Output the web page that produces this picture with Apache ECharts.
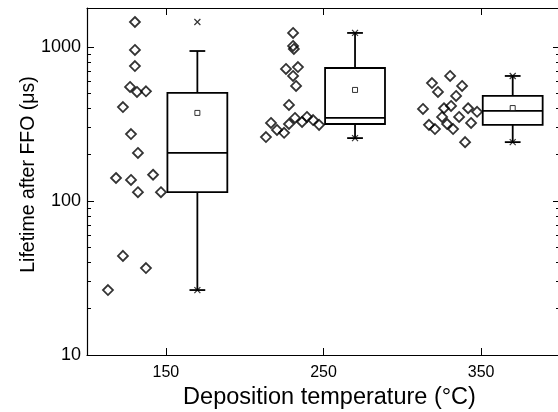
<!DOCTYPE html>
<html>
<head>
<meta charset="utf-8">
<script src="https://cdn.jsdelivr.net/npm/echarts@6/dist/echarts.min.js"></script>
<style>
  html, body { margin: 0; padding: 0; background: #fff; }
  #chart { width: 558px; height: 412px; }
</style>
</head>
<body>
<div id="chart"></div>
<script>
// Tick labels on the temperature axis
const tempTicks = [150, 250, 350];

// Individual lifetimes (µs), plotted with a small horizontal offset left of each box
const x150 = [130.4, 130.4, 130.4, 127.3, 131.7, 137.4, 122.8, 127.9, 132.3, 118.4, 127.9, 141.9, 132.3, 146.9, 122.8, 137.4, 113.3];
const life150 = [1452, 956, 752, 550, 510, 515, 407, 272, 205, 141, 137, 148, 114, 114, 44, 36.7, 26.4];

const x250 = [230.7, 230.7, 231.2, 226.2, 233.8, 230.7, 232.6, 228.1, 216.7, 220.5, 225.0, 213.5, 228.1, 231.9, 236.4, 239.5, 243.4, 247.2];
const life250 = [1233, 1015, 970, 720, 740, 648, 558, 420, 321, 289, 277, 260, 316, 346, 326, 351, 335, 312];

const x350 = [330.3, 318.8, 322.6, 337.9, 334.1, 313.1, 326.4, 330.9, 341.7, 347.4, 325.2, 336.0, 316.9, 320.7, 328.4, 332.2, 343.6, 339.8];
const life350 = [648, 583, 510, 558, 481, 396, 400, 414, 400, 379, 351, 351, 312, 293, 316, 293, 321, 241];

// Box statistics per deposition temperature
const boxCenters = [170, 270, 370];
const whiskerLow = [26.4, 256, 241];
const quart1 = [114, 316, 312];
const medians = [205, 346, 384];
const quart3 = [503, 730, 481];
const whiskerHigh = [941, 1233, 648];
const means = [373, 526, 401];
const maxVals = [1452, 1233, 648];
const minVals = [26.4, 256, 241];

const BOX_HALF = 19;   // half box width, in °C
const CAP_HALF = 5;    // half whisker-cap width, in °C
const FONT = '"Liberation Sans", Arial, sans-serif';

function pairs(xs, ys) { return xs.map((x, i) => [x, ys[i]]); }

function renderBox(params, api) {
  const cx = api.value(0);
  const lo = api.value(1), q1 = api.value(2), med = api.value(3), q3 = api.value(4), hi = api.value(5);
  const tl = api.coord([cx - BOX_HALF, q3]);
  const br = api.coord([cx + BOX_HALF, q1]);
  const mL = api.coord([cx - BOX_HALF, med]);
  const mR = api.coord([cx + BOX_HALF, med]);
  const pHi = api.coord([cx, hi]);
  const pLo = api.coord([cx, lo]);
  const pQ3 = api.coord([cx, q3]);
  const pQ1 = api.coord([cx, q1]);
  const hiL = api.coord([cx - CAP_HALF, hi]), hiR = api.coord([cx + CAP_HALF, hi]);
  const loL = api.coord([cx - CAP_HALF, lo]), loR = api.coord([cx + CAP_HALF, lo]);
  const st = { stroke: '#000', lineWidth: 1.8, fill: null };
  const line = (a, b) => ({ type: 'line', shape: { x1: a[0], y1: a[1], x2: b[0], y2: b[1] }, style: st });
  return {
    type: 'group',
    children: [
      { type: 'rect', shape: { x: tl[0], y: tl[1], width: br[0] - tl[0], height: br[1] - tl[1] },
        style: { stroke: '#000', lineWidth: 1.8, fill: 'rgba(0,0,0,0)' } },
      line(mL, mR),
      line(pQ3, pHi),
      line(pQ1, pLo),
      line(hiL, hiR),
      line(loL, loR)
    ]
  };
}

const crossPath = 'path://M0,0L10,10M10,0L0,10';

const diamondStyle = { color: 'rgba(0,0,0,0)', borderColor: '#000', borderWidth: 1.8 };

const logAxisBase = {
  type: 'log', logBase: 10, min: 10, max: 1790,
  axisLine: { show: true, lineStyle: { color: '#000', width: 1.2 } },
  splitLine: { show: false },
  axisTick: { show: true, inside: true, length: 7, lineStyle: { color: '#000', width: 1 } },
  minorTick: { show: true, splitNumber: 9, length: 4, lineStyle: { color: '#000', width: 1 } },
  minorSplitLine: { show: false }
};

const chart = echarts.init(document.getElementById('chart'), null, { renderer: 'canvas' });
chart.setOption({
  animation: false,
  backgroundColor: '#fff',
  grid: { left: 87, top: 8, width: 473, height: 347, outerBoundsMode: 'none', containLabel: false },
  xAxis: [
    {
      type: 'value', min: 100, max: 400, position: 'bottom',
      name: 'Deposition temperature (°C)', nameLocation: 'middle', nameGap: 31, nameMoveOverlap: false,
      nameTextStyle: { fontFamily: FONT, fontSize: 23.5, color: '#000', padding: [0, 0, 0, 12] },
      axisLine: { show: true, onZero: false, lineStyle: { color: '#000', width: 1.2 } },
      splitLine: { show: false },
      axisTick: { show: true, inside: true, length: 7, customValues: tempTicks, lineStyle: { color: '#000', width: 1 } },
      axisLabel: { customValues: tempTicks, margin: 10, fontFamily: FONT, fontSize: 16, color: '#000' }
    },
    {
      type: 'value', min: 100, max: 400, position: 'top',
      axisLine: { show: true, onZero: false, lineStyle: { color: '#000', width: 1.2 } },
      splitLine: { show: false },
      axisTick: { show: true, inside: true, length: 7, customValues: tempTicks, lineStyle: { color: '#000', width: 1 } },
      axisLabel: { show: false }
    }
  ],
  yAxis: [
    Object.assign({}, logAxisBase, {
      position: 'left',
      name: 'Lifetime after FFO (μs)', nameLocation: 'middle', nameGap: 48, nameMoveOverlap: false,
      nameTextStyle: { fontFamily: FONT, fontSize: 19.5, color: '#000', padding: [0, 0, 0, 14] },
      axisLabel: {
        margin: 6, showMaxLabel: false, fontFamily: FONT, fontSize: 18, color: '#000',
        formatter: v => String(v)
      }
    }),
    Object.assign({}, logAxisBase, {
      position: 'right',
      axisLabel: { show: false }
    })
  ],
  series: [
    {
      type: 'custom', renderItem: renderBox, xAxisIndex: 0, yAxisIndex: 0,
      encode: { x: 0, y: [1, 2, 3, 4, 5] },
      data: boxCenters.map((c, i) => [c, whiskerLow[i], quart1[i], medians[i], quart3[i], whiskerHigh[i]]),
      z: 2
    },
    { type: 'scatter', symbol: 'diamond', symbolSize: 10, itemStyle: diamondStyle, data: pairs(x150, life150), z: 3 },
    { type: 'scatter', symbol: 'diamond', symbolSize: 10, itemStyle: diamondStyle, data: pairs(x250, life250), z: 3 },
    { type: 'scatter', symbol: 'diamond', symbolSize: 10, itemStyle: diamondStyle, data: pairs(x350, life350), z: 3 },
    {
      type: 'scatter', symbol: 'rect', symbolSize: 5,
      itemStyle: { color: '#fff', borderColor: '#000', borderWidth: 1 },
      data: pairs(boxCenters, means), z: 4
    },
    {
      type: 'scatter', symbol: crossPath, symbolSize: 6,
      itemStyle: { color: 'rgba(0,0,0,0)', borderColor: '#000', borderWidth: 1.2 },
      data: pairs(boxCenters, maxVals).concat(pairs(boxCenters, minVals)), z: 4
    }
  ]
});
</script>
</body>
</html>
